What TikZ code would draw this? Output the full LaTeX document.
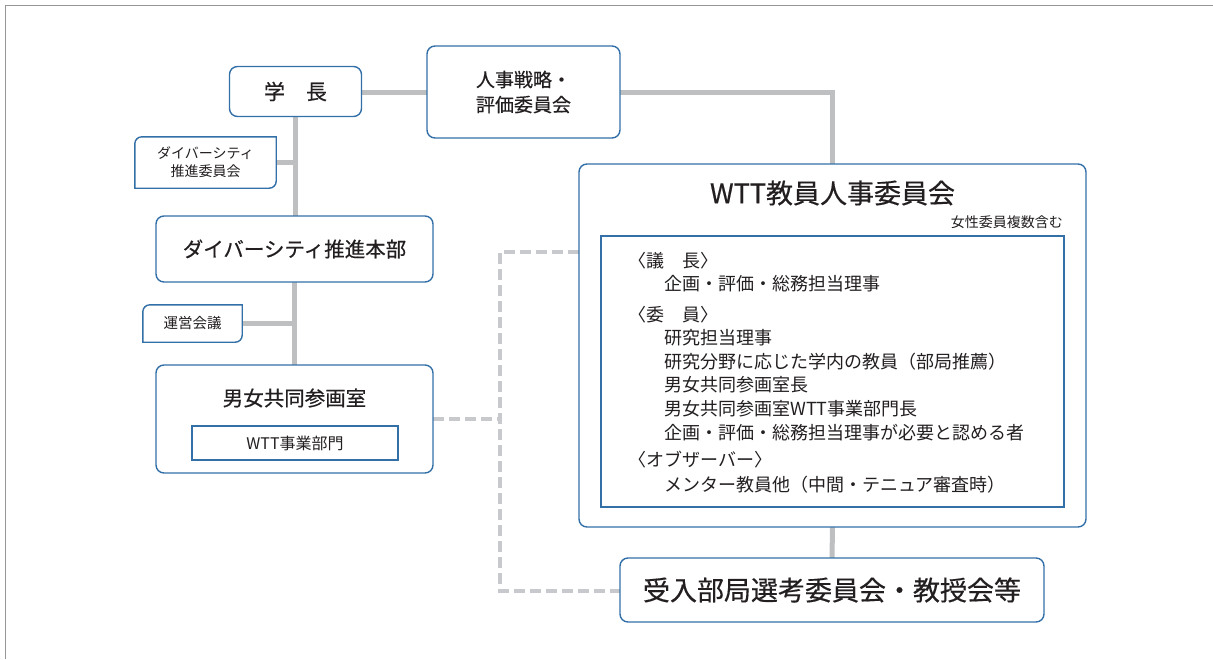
\documentclass[tikz,border=0pt]{standalone}
\usepackage{fontspec}
\setmainfont{Noto Sans CJK JP}
\newfontfamily\jpb[FakeBold=0.45]{Noto Sans CJK JP}
\usetikzlibrary{calc}
\definecolor{bx}{RGB}{52,112,168}
\definecolor{ln}{RGB}{190,191,193}
\definecolor{dl}{RGB}{200,201,204}
\definecolor{tx}{RGB}{35,31,32}
\definecolor{fr}{RGB}{150,150,150}
\newcommand{\fs}[1]{\fontsize{#1}{#1}\selectfont}
\begin{document}
\begin{tikzpicture}[x=1pt,y=-1pt,
  rbox/.style={draw=bx,line width=1.4pt,rounded corners=8pt,fill=white,inner sep=0pt,text=tx},
  plain/.style={inner sep=0pt,text=tx},
  sqbox/.style={draw=bx,line width=1.2pt,fill=white,inner sep=0pt,text=tx},
  conn/.style={ln,line width=5pt},
  dconn/.style={dl,line width=4pt,dash pattern=on 11pt off 5pt,line join=miter},
  sline/.style={draw=bx,line width=1.4pt,fill=white},
  item/.style={inner sep=0pt,text=tx,anchor=west,font=\fs{18}}]
\useasboundingbox (0,0) rectangle (1213,659);
\draw[fr,line width=1.2pt] (1213,5.5) -- (5.5,5.5) -- (5.5,659);

% node placeholders (for connector anchors)
\node[plain,minimum width=132pt,minimum height=50pt] (gakucho) at (295.5,91.5) {};
\node[plain,minimum width=193pt,minimum height=92pt] (jinji) at (523.5,92) {};
\node[plain,minimum width=141pt,minimum height=51pt] (dvc) at (205.5,162.5) {};
\node[plain,minimum width=277pt,minimum height=66pt] (dvh) at (294.5,249) {};
\node[plain,minimum width=99pt,minimum height=37pt] (unei) at (192.5,323.5) {};
\node[plain,minimum width=277pt,minimum height=108pt] (danjo) at (294.5,419) {};
\node[plain,minimum width=507pt,minimum height=363pt] (wtt) at (832.5,345.5) {};
\node[plain,minimum width=424pt,minimum height=64pt] (ukeire) at (832,590) {};

% connectors
\draw[conn] (gakucho.east |- jinji.west) -- (jinji.west);
\draw[conn] (jinji.east) -| (wtt.north);
\draw[conn] (gakucho.south) -- (gakucho.south |- dvh.north);
\draw[conn] (dvc.east) -- (dvc.east -| gakucho.south);
\draw[conn] (dvh.south) -- (danjo.north);
\draw[conn] (unei.east) -- (unei.east -| dvh.south);
\draw[conn] (wtt.south) -- (ukeire.north);
\coordinate (da) at (500,252);
\coordinate (db) at (500,591);
\draw[dconn] (wtt.west |- da) -- (da) -- (db) -- (ukeire.west |- db);
\draw[dconn] (danjo.east) -- (danjo.east -| da);

% boxes
\node[rbox,minimum width=132pt,minimum height=50pt] at (gakucho) {\jpb\fs{21}学　長};
\node[rbox,minimum width=193pt,minimum height=92pt,align=left,font=\jpb\fontsize{19}{25}\selectfont] at (jinji) {人事戦略・\\評価委員会};
\draw[sline] ($(dvc.north west)+(0,7)$) arc[start angle=180,end angle=270,radius=7] -- (dvc.north east) -- ($(dvc.south east)+(0,-7)$) arc[start angle=0,end angle=90,radius=7] -- (dvc.south west) -- cycle;
\node[plain,align=center,font=\fontsize{14}{18}\selectfont] at (dvc) {ダイバーシティ\\推進委員会};
\node[rbox,minimum width=277pt,minimum height=66pt] at (dvh) {\jpb\fs{20.5}ダイバーシティ推進本部};
\draw[sline] ($(unei.north west)+(0,7)$) arc[start angle=180,end angle=270,radius=7] -- (unei.north east) -- ($(unei.south east)+(0,-7)$) arc[start angle=0,end angle=90,radius=7] -- (unei.south west) -- cycle;
\node[plain,font=\fs{14.5}] at (unei) {運営会議};
\node[rbox,minimum width=277pt,minimum height=108pt] at (danjo) {};
\node[plain,font=\jpb\fs{20.5}] (danjot) at (294.5,398) {男女共同参画室};
\node[sqbox,minimum width=206pt,minimum height=34pt,font=\fs{16}] (wttb) at (295,443) {WTT事業部門};

\node[rbox,minimum width=507pt,minimum height=363pt] at (wtt) {};
\node[plain,font=\jpb\fs{27}] (wttt) at (832.5,193) {WTT教員人事委員会};
\node[plain,anchor=east,font=\fs{14}] (josei) at (1063,222) {女性委員複数含む};
\node[sqbox,minimum width=463pt,minimum height=271pt] (inner) at (832.5,371.5) {};
\node[item] (i1) at (628,261) {〈議　長〉};
\node[item] (i2) at (664,284) {企画・評価・総務担当理事};
\node[item] (i3) at (628,315) {〈委　員〉};
\node[item] (i4) at (664,338) {研究担当理事};
\node[item] (i5) at (664,362) {研究分野に応じた学内の教員（部局推薦）};
\node[item] (i6) at (664,385) {男女共同参画室長};
\node[item] (i7) at (664,409) {男女共同参画室WTT事業部門長};
\node[item] (i8) at (664,433) {企画・評価・総務担当理事が必要と認める者};
\node[item] (i9) at (628,460) {〈オブザーバー〉};
\node[item] (i10) at (664,485) {メンター教員他（中間・テニュア審査時）};

\node[rbox,minimum width=424pt,minimum height=64pt] at (ukeire) {\jpb\fs{27}受入部局選考委員会・教授会等};
\end{tikzpicture}
\end{document}
